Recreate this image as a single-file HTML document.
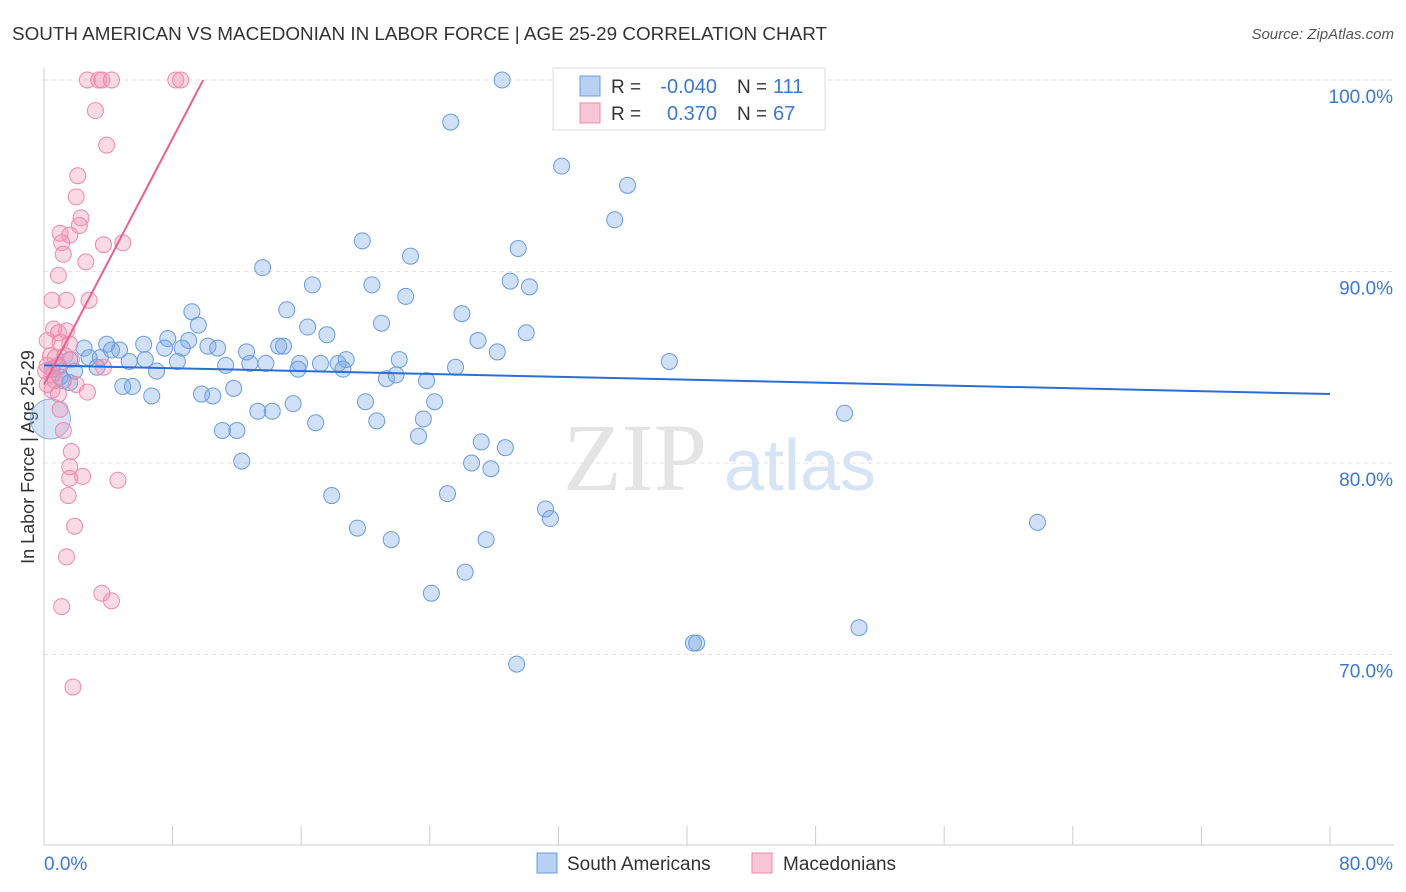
<!DOCTYPE html>
<html><head><meta charset="utf-8">
<style>
body{margin:0;background:#fff;font-family:"Liberation Sans",sans-serif;}
svg{display:block}
</style></head>
<body>
<svg id="chart" width="1406" height="892" viewBox="0 0 1406 892">
<text x="12" y="40" font-size="18" fill="#333" textLength="815" lengthAdjust="spacingAndGlyphs">SOUTH AMERICAN VS MACEDONIAN IN LABOR FORCE | AGE 25-29 CORRELATION CHART</text>
<text x="1394" y="39" font-size="15" fill="#555" font-style="italic" text-anchor="end">Source: ZipAtlas.com</text>
<g>
<text x="635" y="490" font-size="96" fill="#e4e4e4" font-family="Liberation Serif" text-anchor="middle">ZIP</text>
<text x="800" y="490" font-size="72" fill="#d6e4f5" text-anchor="middle">atlas</text>
</g>
<text transform="translate(34,457) rotate(-90)" font-size="18" fill="#333" text-anchor="middle">In Labor Force | Age 25-29</text>
<g id="grid"></g><g id="axes"></g><g id="marks"></g>
<g>
<rect x="553" y="68" width="272" height="62" fill="#fff" stroke="#ddd"/>
<rect x="580" y="76" width="20" height="20" fill="#b8d0f2" stroke="#6a9be0"/>
<rect x="580" y="103" width="20" height="20" fill="#f8c6d6" stroke="#ee8aaa"/>
<text x="611" y="93" font-size="19" fill="#333">R = </text><text x="717" y="93" font-size="20" fill="#3a78d4" text-anchor="end">-0.040</text>
<text x="737" y="93" font-size="19" fill="#333">N = </text><text x="773" y="93" font-size="20" fill="#3a78d4">111</text>
<text x="611" y="120" font-size="19" fill="#333">R = </text><text x="717" y="120" font-size="20" fill="#3a78d4" text-anchor="end">0.370</text>
<text x="737" y="120" font-size="19" fill="#333">N = </text><text x="773" y="120" font-size="20" fill="#3a78d4">67</text>
</g>
<g>
<rect x="537" y="853" width="20" height="20" fill="#b8d0f2" stroke="#6a9be0"/>
<text x="567" y="870" font-size="19" fill="#333">South Americans</text>
<rect x="752" y="853" width="20" height="20" fill="#f8c6d6" stroke="#ee8aaa"/>
<text x="783" y="870" font-size="19" fill="#333">Macedonians</text>
</g>
</svg>
<script>
const yTicks=[100,90,80,70];
const yTickLabels=["100.0%","90.0%","80.0%","70.0%"];
const xTicks=[0,8,16,24,32,40,48,56,64,72,80];
const xTickLabels=["0.0%","80.0%"];
const blueX=[28.5,32.7,38.3,41.2,25.3,42.4,32.2,36.3,35.5,19.8,29.5,13.6,22.8,16.7,20.4,29.0,30.2,22.5,15.1,26.0,9.2,21.0,16.4,9.6,17.6,27.0,30.0,7.7,9.0,6.2,3.9,2.5,2.8,3.5,4.2,4.7,7.5,8.6,10.2,10.8,12.6,14.6,14.9,28.2,38.9,5.3,6.3,8.3,11.3,12.8,13.8,15.9,17.2,18.3,18.8,22.1,15.8,18.6,25.6,3.3,1.9,7.0,1.0,1.6,21.3,21.9,23.8,4.9,5.5,11.8,6.7,9.8,10.5,20.0,24.3,15.5,13.3,14.2,49.8,20.7,23.6,16.9,23.3,11.1,12.0,27.2,28.7,12.3,26.6,27.8,17.9,25.1,31.2,31.5,61.8,19.5,21.6,27.5,26.2,24.1,50.7,40.4,40.6,29.4,1.2,0.5,0.9,1.6];
const blueY=[100,100,100,100,97.8,97.8,95.5,94.5,92.7,91.6,91.2,90.2,90.8,89.3,89.3,89.5,89.2,88.7,88.0,87.8,87.9,87.3,87.1,87.2,86.7,86.4,86.8,86.5,86.4,86.2,86.2,86.0,85.5,85.5,85.9,85.9,86.0,86.0,86.1,86.0,85.8,86.1,86.1,85.8,85.3,85.3,85.4,85.3,85.1,85.2,85.2,85.2,85.2,85.2,85.4,85.4,84.9,84.9,85.0,85.0,84.8,84.8,84.5,84.2,84.4,84.6,84.3,84.0,84.0,83.9,83.5,83.6,83.5,83.2,83.2,83.1,82.7,82.7,82.6,82.2,82.3,82.1,81.4,81.7,81.7,81.1,80.8,80.1,80.0,79.7,78.3,78.4,77.6,77.1,76.9,76.6,76.0,76.0,74.3,73.2,71.4,70.6,70.6,69.5,84.3,84.9,85.1,85.4];
const bigX=[0.4], bigY=[82.3];
const pinkX=[2.7,3.4,3.6,4.2,8.2,8.5,3.2,3.9,2.1,2.0,2.3,2.2,1.0,1.6,1.1,3.7,4.9,1.2,2.6,0.9,0.5,1.4,2.8,0.6,0.9,1.4,0.2,1.0,1.6,0.4,0.7,1.3,1.7,0.2,0.9,0.5,2.0,2.7,0.5,0.7,1.0,1.2,1.7,1.6,2.4,1.6,4.6,1.5,1.9,1.4,3.6,4.2,1.1,1.8,0.2,0.9,0.1,3.7];
const pinkY=[100,100,100,100,100,100,98.4,96.6,95.0,93.9,92.8,92.4,92.0,91.9,91.5,91.4,91.5,90.9,90.5,89.8,88.5,88.5,88.5,87.0,86.8,86.9,86.4,86.3,86.2,85.6,85.5,85.6,85.4,85.1,85.0,84.6,84.1,83.7,83.8,84.3,82.8,81.7,80.6,79.8,79.3,79.2,79.1,78.3,76.7,75.1,73.2,72.8,72.5,68.3,84.1,83.6,84.8,85.0];
const blueTrend=[[0,85.1],[80,83.6]];
const pinkTrend=[[0,84.1],[9.9,100]];
const NS="http://www.w3.org/2000/svg";
const sx=v=>44+v*16.075, sy=v=>80+(100-v)*19.15;
function mk(t,a,p){const e=document.createElementNS(NS,t);for(const k in a)e.setAttribute(k,a[k]);p.appendChild(e);return e;}
const grid=document.getElementById('grid'),axes=document.getElementById('axes'),marks=document.getElementById('marks');
yTicks.forEach((v,i)=>{
 const l=mk('line',{x1:44,x2:1394,y1:sy(v),y2:sy(v),stroke:'#e2e2e2','stroke-dasharray':'4,4'},grid);
 
 
 const t=mk('text',{x:1393,y:sy(v)+23,'font-size':19,fill:'#3a78d4','text-anchor':'end'},axes);
 t.textContent=yTickLabels[i];
 
 
});
const ax=mk('line',{x1:44,x2:44,y1:68,y2:845,stroke:'#ccc'},axes);


const bx=mk('line',{x1:44,x2:1394,y1:845,y2:845,stroke:'#ccc'},axes);


xTicks.forEach(v=>{const l=mk('line',{x1:sx(v),x2:sx(v),y1:826,y2:845,stroke:'#ccc'},axes);
 
 });
const x0=mk('text',{x:44,y:870,'font-size':19,fill:'#3a78d4'},axes);x0.textContent=xTickLabels[0];


const x1=mk('text',{x:1393,y:870,'font-size':19,fill:'#3a78d4','text-anchor':'end'},axes);x1.textContent=xTickLabels[1];


function pts(X,Y,r,fill,stroke,name){X.forEach((x,i)=>{const c=mk('circle',{cx:sx(x),cy:sy(Y[i]),r:r,fill:fill,stroke:stroke,'stroke-width':1},marks);
 
 });}
pts(bigX,bigY,20,'rgba(120,165,230,0.3)','#8ab0e6','south-american-point');
pts(blueX,blueY,8,'rgba(120,165,230,0.35)','#6a9be0','south-american-point');
pts(pinkX,pinkY,8,'rgba(242,150,180,0.35)','#ee8aaa','macedonian-point');
const tb=mk('line',{x1:sx(blueTrend[0][0]),y1:sy(blueTrend[0][1]),x2:sx(blueTrend[1][0]),y2:sy(blueTrend[1][1]),stroke:'#2a6fd6','stroke-width':2},marks);


const tp=mk('line',{x1:sx(pinkTrend[0][0]),y1:sy(pinkTrend[0][1]),x2:sx(pinkTrend[1][0]),y2:sy(pinkTrend[1][1]),stroke:'#e8608e','stroke-width':2},marks);


</script>
</body></html>
